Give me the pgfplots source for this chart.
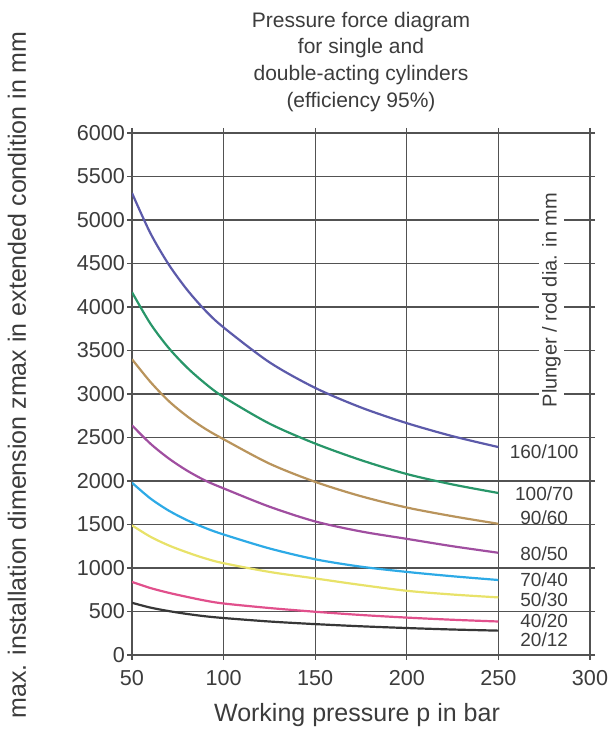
\documentclass[border=0pt]{standalone}
\usepackage{fontspec}
\setmainfont{Liberation Sans}
\usepackage{pgfplots}
\pgfplotsset{compat=1.18}
\definecolor{c160}{RGB}{92,90,170}
\definecolor{c100}{RGB}{40,150,105}
\definecolor{c90}{RGB}{185,148,92}
\definecolor{c80}{RGB}{160,78,160}
\definecolor{c70}{RGB}{45,170,230}
\definecolor{c50}{RGB}{232,226,105}
\definecolor{c40}{RGB}{225,80,140}
\definecolor{c20}{RGB}{55,55,55}
\definecolor{txt}{RGB}{60,60,60}
\begin{document}
\begin{tikzpicture}
\path[use as bounding box] (0,0) rectangle (305.5pt,365.5pt);
\begin{axis}[at={(66pt,38pt)}, anchor=south west, scale only axis,
  width=229pt, height=261pt,
  xmin=50, xmax=300, ymin=0, ymax=6000,
  xtick={50,100,...,300}, ytick={0,500,...,6000},
  grid=major, grid style={black!68, line width=0.65pt},
  axis line style={black!68, line width=0.75pt},
  tick style={black!68, line width=0.65pt},
  tick align=outside, major tick length=2.5pt,
  ticklabel style={font=\fontsize{10.8}{12}\selectfont, text=txt},
  yticklabel style={xshift=2.5pt},
  xticklabel style={yshift=-1.5pt},
  /pgf/number format/1000 sep={},
  /pgf/number format/assume math mode=true,
  every axis plot/.append style={line width=1.1pt, smooth},
]
\addplot[c160] coordinates {(50,5310)(60,4850)(70,4490)(80,4200)(90,3960)(100,3765)(125,3365)(150,3070)(175,2845)(200,2665)(225,2515)(250,2390)};
\addplot[c100] coordinates {(50,4170)(60,3810)(70,3530)(80,3305)(90,3120)(100,2965)(125,2660)(150,2430)(175,2240)(200,2080)(225,1960)(250,1862)};
\addplot[c90] coordinates {(50,3400)(60,3140)(70,2920)(80,2745)(90,2600)(100,2480)(125,2200)(150,1990)(175,1825)(200,1695)(225,1595)(250,1508)};
\addplot[c80] coordinates {(50,2640)(60,2430)(70,2260)(80,2120)(90,2005)(100,1915)(125,1705)(150,1535)(175,1420)(200,1335)(225,1250)(250,1175)};
\addplot[c70] coordinates {(50,1980)(60,1800)(70,1660)(80,1550)(90,1460)(100,1385)(125,1225)(150,1100)(175,1015)(200,955)(225,905)(250,862)};
\addplot[c50] coordinates {(50,1490)(60,1360)(70,1260)(80,1180)(90,1110)(100,1055)(125,955)(150,880)(175,805)(200,738)(225,695)(250,662)};
\addplot[c40] coordinates {(50,840)(60,770)(70,715)(80,668)(90,625)(100,592)(125,540)(150,497)(175,460)(200,430)(225,405)(250,385)};
\addplot[c20] coordinates {(50,600)(60,545)(70,505)(80,472)(90,445)(100,425)(125,385)(150,355)(175,330)(200,310)(225,293)(250,280)};
\begin{scope}[every node/.style={font=\fontsize{9.5}{10}\selectfont, text=txt, inner sep=0pt}]
\node at (axis cs:275,2333) {160/100};
\node at (axis cs:275,1850) {100/70};
\node at (axis cs:275,1575) {90/60};
\node at (axis cs:275,1160) {80/50};
\node at (axis cs:275,862) {70/40};
\node at (axis cs:275,632) {50/30};
\node at (axis cs:275,391) {40/20};
\node at (axis cs:275,172) {20/12};
\end{scope}
\node[rotate=90, fill=white, inner sep=1.5pt, font=\fontsize{10}{11}\selectfont, text=txt] at (axis cs:279,4080) {Plunger / rod dia. in mm};
\end{axis}
\node[font=\fontsize{10.5}{13.3}\selectfont, text=txt, align=center, anchor=north] at (180.5pt,363pt) {Pressure force diagram\\for single and\\double-acting cylinders\\(efficiency 95\%)};
\node[font=\fontsize{12.5}{13}\selectfont, text=txt] at (178.5pt,8pt) {Working pressure p in bar};
\node[rotate=90, font=\fontsize{12.5}{13}\selectfont, text=txt] at (8.5pt,178pt) {max. installation dimension zmax in extended condition in mm};
\end{tikzpicture}
\end{document}
